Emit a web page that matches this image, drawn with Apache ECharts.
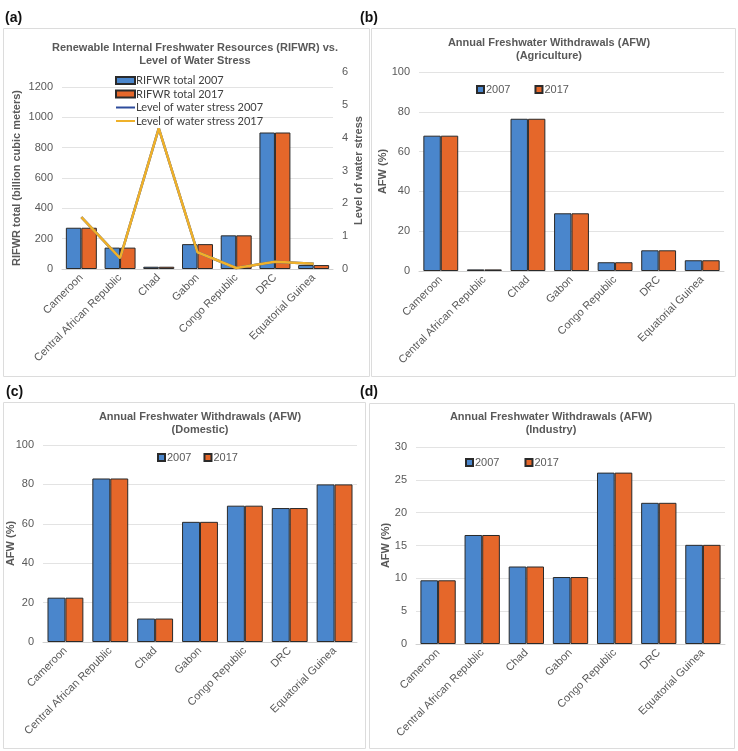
<!DOCTYPE html>
<html>
<head>
<meta charset="utf-8">
<script src="https://cdn.jsdelivr.net/npm/echarts@6/dist/echarts.min.js"></script>
<style>
html,body{margin:0;padding:0;background:#fff;}
#c{width:738px;height:751px;}
</style>
</head>
<body>
<div id="c"></div>
<script>
const categories = ['Cameroon','Central African Republic','Chad','Gabon','Congo Republic','DRC','Equatorial Guinea'];
const rifwr2007 = [272, 141, 15, 164, 222, 900, 26];
const rifwr2017 = [272, 141, 15, 164, 222, 900, 26];
const stress2007 = [1.58, 0.33, 4.28, 0.51, 0.03, 0.22, 0.16];
const stress2017 = [1.58, 0.33, 4.28, 0.51, 0.03, 0.22, 0.16];
const agri2007 = [68, 0.8, 76.5, 29, 4.4, 10.4, 5.4];
const agri2017 = [68, 0.8, 76.5, 29, 4.4, 10.4, 5.4];
const dom2007 = [22.5, 83, 11.9, 61, 69.2, 68, 80];
const dom2017 = [22.5, 83, 11.9, 61, 69.2, 68, 80];
const ind2007 = [9.7, 16.6, 11.8, 10.2, 26.1, 21.5, 15.1];
const ind2017 = [9.7, 16.6, 11.8, 10.2, 26.1, 21.5, 15.1];
const rifwrTicks = {min: 0, max: 1200, interval: 200};
const stressTicks = {min: 0, max: 6, interval: 1};
const pctTicks = {min: 0, max: 100, interval: 20};
const indTicks = {min: 0, max: 30, interval: 5};

const BLUE = '#4a86cc', ORANGE = '#e5672a', BORDER = '#2a2a2a';
const FONT = '"Liberation Sans", Arial, sans-serif';
const LBL = '#595959';
const GRID_LINE = '#e3e3e3';

const chart = echarts.init(document.getElementById('c'));

function xAx(gridIndex, show) {
  return {
    type: 'category', gridIndex, data: categories, show: show !== false,
    axisTick: {show: false},
    axisLine: {lineStyle: {color: '#d0d0d0'}},
    axisLabel: {rotate: 45, fontSize: 11, color: LBL, fontFamily: FONT, margin: 7, interval: 0}
  };
}
function yAx(gridIndex, t, name, nameGap, extra) {
  return Object.assign({
    type: 'value', gridIndex, min: t.min, max: t.max, interval: t.interval,
    name, nameLocation: 'middle', nameGap, nameMoveOverlap: false,
    nameTextStyle: {fontWeight: 'bold', fontSize: 11, color: LBL, fontFamily: FONT},
    axisLabel: {fontSize: 11, color: LBL, fontFamily: FONT, margin: 9, formatter: v => String(v)},
    axisLine: {show: false}, axisTick: {show: false},
    splitLine: {lineStyle: {color: GRID_LINE, width: 1}}
  }, extra || {});
}
function bar(name, data, color, xi, yi) {
  return {
    type: 'bar', name, data, xAxisIndex: xi, yAxisIndex: yi,
    barGap: '0%', barCategoryGap: '20%',
    itemStyle: {color, borderColor: BORDER, borderWidth: 1},
    emphasis: {disabled: true}, animation: false
  };
}
function titleText(x, y, lines) {
  return {
    type: 'text', x, y,
    style: {text: lines, textAlign: 'center', fill: LBL, font: 'bold 11px ' + FONT, lineHeight: 12.5}
  };
}
function panelLabel(x, y, t) {
  return {type: 'text', x, y, style: {text: t, fill: '#111', font: 'bold 14px ' + FONT}};
}
function box(x, y, w, h) {
  return {type: 'rect', shape: {x, y, width: w, height: h}, style: {fill: 'none', stroke: '#dcdcdc', lineWidth: 1}, z: -1};
}
function smallLegend(left, top, gap) {
  return {
    data: ['2007', '2017'], left, top, padding: 0, itemWidth: 7, itemHeight: 7, itemGap: gap,
    icon: 'rect', selectedMode: false,
    textStyle: {fontSize: 11, color: LBL, fontFamily: FONT, padding: [0, 0, 0, -3]}
  };
}

const option = {
  animation: false,
  graphic: [
    box(3.5, 28.5, 366, 348),
    box(371.5, 28.5, 364, 348),
    box(3.5, 402.5, 362, 346),
    box(369.5, 403.5, 365, 345),
    panelLabel(5, 11, '(a)'),
    panelLabel(360, 11, '(b)'),
    panelLabel(6, 385, '(c)'),
    panelLabel(360, 385, '(d)'),
    titleText(195, 42, 'Renewable Internal Freshwater Resources (RIFWR) vs.\nLevel of Water Stress'),
    titleText(549, 37, 'Annual Freshwater Withdrawals (AFW)\n(Agriculture)'),
    titleText(200, 411, 'Annual Freshwater Withdrawals (AFW)\n(Domestic)'),
    titleText(551, 411, 'Annual Freshwater Withdrawals (AFW)\n(Industry)')
  ],
  grid: [
    {left: 62, right: 405, top: 87, bottom: 482},
    {left: 62, right: 405, top: 72, bottom: 482},
    {left: 419, right: 14, top: 72, bottom: 480},
    {left: 43, right: 381, top: 445, bottom: 109},
    {left: 416, right: 13, top: 447, bottom: 107}
  ],
  legend: [
    {
      data: [
        {name: 'RIFWR total 2007', icon: 'rect'},
        {name: 'RIFWR total 2017', icon: 'rect'},
        {name: 'Level of water stress 2007', itemStyle: {opacity: 0}},
        {name: 'Level of water stress 2017', itemStyle: {opacity: 0}}
      ],
      orient: 'vertical', left: 115, top: 75, padding: 0, itemWidth: 19, itemHeight: 7, itemGap: 2.5,
      selectedMode: false,
      textStyle: {fontSize: 11, color: '#404040', fontFamily: 'Lato, "Open Sans", sans-serif', padding: [0, 0, 0, -4]}
    },
    smallLegend(476, 84, 24),
    smallLegend(157, 452, 12),
    smallLegend(465, 457, 25)
  ],
  xAxis: [xAx(0), xAx(1, false), xAx(2), xAx(3), xAx(4)],
  yAxis: [
    yAx(0, rifwrTicks, 'RIFWR total (billion cubic meters)', 40),
    yAx(1, stressTicks, 'Level of water stress', 20, {position: 'right', splitLine: {show: false}}),
    yAx(2, pctTicks, 'AFW (%)', 31),
    yAx(3, pctTicks, 'AFW (%)', 27),
    yAx(4, indTicks, 'AFW (%)', 25)
  ],
  series: [
    bar('RIFWR total 2007', rifwr2007, BLUE, 0, 0),
    bar('RIFWR total 2017', rifwr2017, ORANGE, 0, 0),
    {type: 'line', name: 'Level of water stress 2007', data: stress2007, xAxisIndex: 1, yAxisIndex: 1,
     showSymbol: false, symbol: 'none', lineStyle: {color: '#2e4c9c', width: 2.5}, itemStyle: {color: '#2e4c9c'}, z: 3},
    {type: 'line', name: 'Level of water stress 2017', data: stress2017, xAxisIndex: 1, yAxisIndex: 1,
     showSymbol: false, symbol: 'none', lineStyle: {color: '#efb12a', width: 2.5}, itemStyle: {color: '#efb12a'}, z: 4},
    bar('2007', agri2007, BLUE, 2, 2),
    bar('2017', agri2017, ORANGE, 2, 2),
    bar('2007', dom2007, BLUE, 3, 3),
    bar('2017', dom2017, ORANGE, 3, 3),
    bar('2007', ind2007, BLUE, 4, 4),
    bar('2017', ind2017, ORANGE, 4, 4)
  ]
};
chart.setOption(option);
</script>
</body>
</html>
